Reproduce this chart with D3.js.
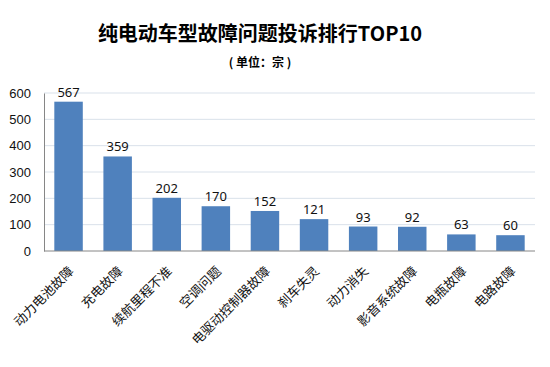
<!DOCTYPE html>
<html lang="zh">
<head>
<meta charset="utf-8">
<title>纯电动车型故障问题投诉排行TOP10</title>
<script src="https://d3js.org/d3.v7.min.js"></script>
<style>
  body { margin: 0; background: #fff; }
  svg { display: block; font-family: "Noto Sans", "Noto Sans CJK SC", sans-serif; }
  .title { font-size: 20px; font-weight: bold; font-family: "Noto Sans CJK SC", sans-serif; }
  .subtitle { font-size: 12px; font-weight: bold; font-family: "Noto Sans CJK SC", sans-serif; }
  .tick text { font-size: 13px; fill: #111; }
  .xlab { font-size: 13px; fill: #111; font-family: "Noto Sans CJK SC", sans-serif; }
  .val { font-size: 13px; fill: #111; }
</style>
</head>
<body>
<div id="chart"></div>
<script>
var categories = ["动力电池故障", "充电故障", "续航里程不准", "空调问题", "电驱动控制器故障", "刹车失灵", "动力消失", "影音系统故障", "电瓶故障", "电路故障"];
var values = [567, 359, 202, 170, 152, 121, 93, 92, 63, 60];
var yTicks = [0, 100, 200, 300, 400, 500, 600];

var w = 550, h = 367;
var margin = {left: 44, right: 15, top: 93, bottom: 116};

var svg = d3.select("#chart").append("svg")
  .attr("width", w).attr("height", h);

var x = d3.scaleBand()
  .domain(categories)
  .range([margin.left, w - margin.right])
  .paddingInner(0.42)
  .paddingOuter(0.21);

var y = d3.scaleLinear()
  .domain([0, 600])
  .range([h - margin.bottom, margin.top]);

// title
svg.append("text").attr("class", "title")
  .attr("x", 260).attr("y", 41).attr("text-anchor", "middle")
  .text("纯电动车型故障问题投诉排行TOP10");
svg.append("text").attr("class", "subtitle")
  .attr("x", 260).attr("y", 67).attr("text-anchor", "middle")
  .text("( 单位：宗 )");

// gridlines
svg.append("g").selectAll("line")
  .data(yTicks.slice(1))
  .enter().append("line")
  .attr("x1", margin.left).attr("x2", w - margin.right)
  .attr("y1", function(d) { return y(d); })
  .attr("y2", function(d) { return y(d); })
  .attr("stroke", "#d9e1ea").attr("stroke-width", 1);

// y axis
var yAxis = svg.append("g")
  .attr("transform", "translate(" + margin.left + ",0)")
  .call(d3.axisLeft(y).tickValues(yTicks).tickSize(0).tickPadding(13));
yAxis.select(".domain").attr("stroke", "#868686");

// bars
svg.append("g").selectAll("rect")
  .data(values)
  .enter().append("rect")
  .attr("x", function(d, i) { return x(categories[i]); })
  .attr("y", function(d) { return y(d); })
  .attr("width", x.bandwidth())
  .attr("height", function(d) { return y(0) - y(d); })
  .attr("fill", "#4f81bd");

// value labels
svg.append("g").selectAll("text")
  .data(values)
  .enter().append("text")
  .attr("class", "val")
  .attr("text-anchor", "middle")
  .attr("x", function(d, i) { return x(categories[i]) + x.bandwidth() / 2; })
  .attr("y", function(d) { return y(d) - 5; })
  .text(function(d) { return d; });

// x axis line
svg.append("line")
  .attr("x1", margin.left).attr("x2", w - margin.right)
  .attr("y1", y(0)).attr("y2", y(0))
  .attr("stroke", "#868686");

// category labels
svg.append("g").selectAll("text")
  .data(categories)
  .enter().append("text")
  .attr("class", "xlab")
  .attr("text-anchor", "end")
  .attr("transform", function(d) {
    return "translate(" + (x(d) + x.bandwidth() / 2 + 6) + "," + (y(0) + 21) + ") rotate(-45)";
  })
  .text(function(d) { return d; });
</script>
</body>
</html>
